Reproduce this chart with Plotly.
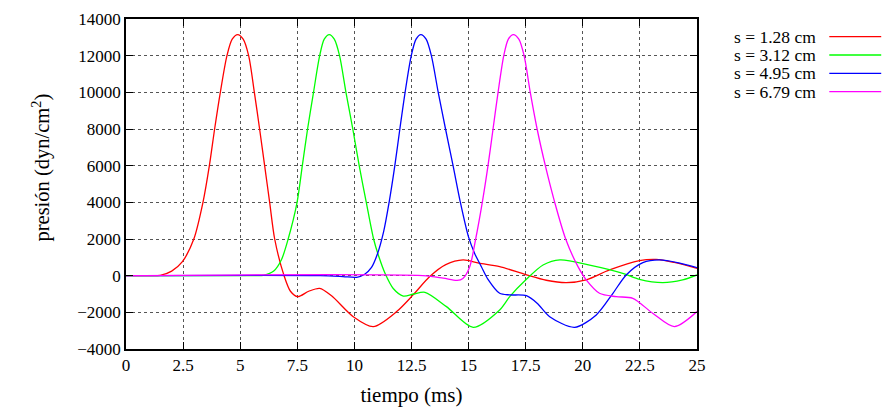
import plotly.graph_objects as go

# Pressure pulses at four positions along the tube
series_names = ["s = 1.28 cm", "s = 3.12 cm", "s = 4.95 cm", "s = 6.79 cm"]
series_colors = ["#ff0000", "#00ff00", "#0000ff", "#ff00ff"]

t_s1 = [0, 1.0, 1.5, 2.0, 2.46, 2.97, 3.37, 3.65, 3.88, 4.13, 4.42, 4.65, 4.89, 5.13, 5.37,
        5.62, 5.85, 6.07, 6.29, 6.51, 6.92, 7.2, 7.52, 8.0, 8.48, 9.0, 9.95, 10.83, 11.85,
        12.57, 13.3, 14.0, 14.76, 15.45, 16.36, 17.5, 18.4, 19.28, 20.15, 21.17, 22.48,
        23.21, 24.0, 25.0]
p_s1 = [0, 0, 20, 250, 750, 2000, 4000, 6000, 8000, 10000, 12000, 12900, 13150, 12900, 12000,
        10000, 8000, 6000, 4000, 2000, 0, -850, -1145, -850, -690, -1100, -2240, -2780, -1960,
        -1050, -50, 600, 860, 680, 490, 60, -250, -380, -230, 310, 820,
        890, 720, 400]

t_s2 = [0, 5.5, 6.03, 6.47, 6.8, 7.1, 7.49, 7.72, 7.95, 8.21, 8.48, 8.68, 8.9, 9.12, 9.35,
        9.63, 9.93, 10.21, 10.52, 10.84, 11.08, 11.34, 11.7, 12.14, 12.6, 13.09, 14.03, 15.2,
        16.36, 16.8, 17.53, 18.26, 19.0, 20.3, 21.75, 22.48, 23.5, 24.37, 25.0]
p_s2 = [0, 0, 20, 250, 850, 2000, 4000, 6000, 8000, 10000, 12000, 12900, 13150, 12900, 12000,
        10000, 8000, 6000, 4000, 2000, 1000, 130, -700, -1110, -1000, -910, -1690, -2815,
        -1870, -1145, -200, 580, 860, 580, 130, -200, -380, -230, 40]

t_s3 = [0, 8.5, 9.5, 10.1, 10.45, 10.75, 11.0, 11.28, 11.52, 11.77, 11.99, 12.22, 12.49,
        12.7, 12.91, 13.14, 13.37, 13.67, 13.99, 14.32, 14.64, 15.0, 15.27, 15.56, 15.85,
        16.36, 16.8, 17.53, 18.0, 18.55, 19.64, 20.59, 21.32, 21.9, 22.63, 23.36, 24.2, 25.0]
p_s3 = [0, 0, -50, -90, 80, 450, 1150, 2400, 4000, 6000, 8000, 10000, 12000,
        12900, 13150, 12900, 12000, 10000, 8000, 6000, 4000, 2100, 1200, 490, -200,
        -960, -1050, -1090, -1500, -2240, -2815, -2140, -960, 40, 710, 860, 700, 440]

t_s4 = [0, 13.0, 13.89, 14.5, 14.75, 15.05, 15.31, 15.6, 15.85, 16.07, 16.29, 16.54, 16.74,
        16.96, 17.2, 17.43, 17.7, 18.0, 18.36, 18.77, 19.25, 19.79, 20.15, 20.73, 21.46,
        22.19, 23.06, 24.01, 25.0]
p_s4 = [0, 0, -140, -260, -150, 490, 2000, 4000, 6000, 8000, 10000, 12000, 12900,
        13150, 12900, 12000, 10000, 8000, 6000, 4000, 2000, 490, -230, -960, -1145,
        -1235, -2050, -2780, -1960]

x_ticks = [0, 2.5, 5, 7.5, 10, 12.5, 15, 17.5, 20, 22.5, 25]
x_tick_labels = ["0", "2.5", "5", "7.5", "10", "12.5", "15", "17.5", "20", "22.5", "25"]
y_ticks = [-4000, -2000, 0, 2000, 4000, 6000, 8000, 10000, 12000, 14000]
y_tick_labels = ["\u22124000", "\u22122000", "0", "2000", "4000", "6000", "8000",
                 "10000", "12000", "14000"]

times = [t_s1, t_s2, t_s3, t_s4]
pressures = [p_s1, p_s2, p_s3, p_s4]

W, H = 883, 407
L, R, T, B = 125.6, 697.5, 19, 349
FONT = "Liberation Serif"

fig = go.Figure()
for name, color, t, p in zip(series_names, series_colors, times, pressures):
    fig.add_trace(go.Scatter(
        x=t, y=p, name=name, mode="lines",
        line=dict(color=color, width=1.3, shape="spline", smoothing=0.8),
        showlegend=False,
    ))


def px_to_paper(x, y):
    return (x - L) / (R - L), (B - y) / (B - T)


# Key in the top right: label on the left, line sample on the right
row_y = [36.7, 55.0, 73.3, 91.7]
annotations = []
shapes = []
for name, color, ry in zip(series_names, series_colors, row_y):
    tx, ty = px_to_paper(819, ry)
    annotations.append(dict(
        x=tx, y=ty, xref="paper", yref="paper", text=name, showarrow=False,
        xanchor="right", yanchor="middle", font=dict(family=FONT, size=17.5, color="black"),
    ))
    x0, y0 = px_to_paper(830, ry)
    x1, _ = px_to_paper(882, ry)
    shapes.append(dict(type="line", xref="paper", yref="paper", x0=x0, x1=x1, y0=y0, y1=y0,
                       line=dict(color=color, width=1.3)))

# Pressure axis title
ax, ay = px_to_paper(40, 168)
annotations.append(dict(
    x=ax, y=ay, xref="paper", yref="paper", text="presión (dyn/cm<sup>2</sup>)",
    showarrow=False, textangle=-90, xanchor="center", yanchor="middle",
    font=dict(family=FONT, size=20.5, color="black"),
))

axis_common = dict(
    showline=True, linecolor="black", linewidth=1.5, mirror="ticks",
    ticks="inside", ticklen=7, tickcolor="black", tickwidth=1,
    showgrid=True, gridcolor="#555555", griddash="dot", gridwidth=1,
    zeroline=False, tickfont=dict(family=FONT, size=17, color="black"),
)

fig.update_layout(
    width=W, height=H,
    margin=dict(l=L, r=W - R, t=T, b=H - B, autoexpand=False),
    plot_bgcolor="white", paper_bgcolor="white",
    xaxis=dict(range=[0, 25], tickvals=x_ticks, ticktext=x_tick_labels,
               title=dict(text="tiempo (ms)", font=dict(family=FONT, size=21, color="black"),
                          standoff=13),
               **axis_common),
    yaxis=dict(range=[-4000, 14000], tickvals=y_ticks, ticktext=y_tick_labels,
               **axis_common),
    annotations=annotations,
    shapes=shapes,
)

fig.write_html("out.html")
